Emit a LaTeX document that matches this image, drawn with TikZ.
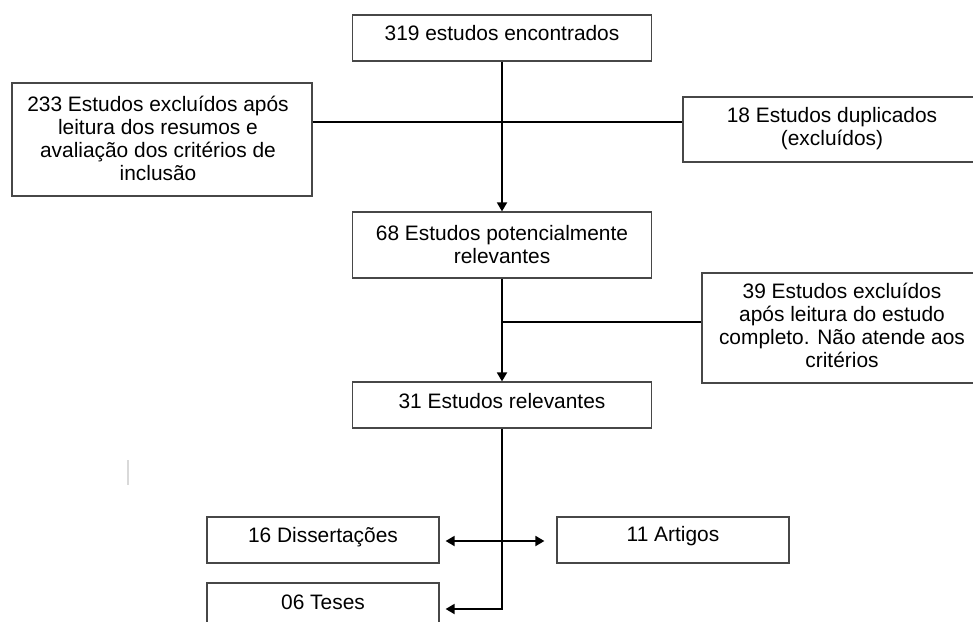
\documentclass[tikz,border=0pt]{standalone}
\usepackage{fontspec}
\setmainfont{Liberation Sans}
\usetikzlibrary{arrows.meta}
\begin{document}
\begin{tikzpicture}[x=1pt,y=-1pt,
  boxst/.style={draw=black!72,line width=1.2pt,inner sep=0pt},
  txt/.style={font=\fontsize{20.9}{23}\selectfont,align=center,inner sep=0pt,text=black},
  conn/.style={line width=1.8pt,draw=black},
  arr/.style={conn,-{Triangle[length=9pt,width=10pt]}},
]
\useasboundingbox (0,0) rectangle (973,621);
\fill[white] (0,0) rectangle (973,621);
\clip (0,0) rectangle (973,621);

% boxes
\node[boxst,minimum width=299pt,minimum height=46pt] (b319) at (502,38) {};
\node[boxst,minimum width=300pt,minimum height=113pt] (b233) at (162,139.5) {};
\node[boxst,minimum width=298pt,minimum height=65pt] (b18) at (832,129.5) {};
\node[boxst,minimum width=299pt,minimum height=66pt] (b68) at (502,245) {};
\node[boxst,minimum width=280pt,minimum height=110pt] (b39) at (842,328) {};
\node[boxst,minimum width=299pt,minimum height=46pt] (b31) at (502,405) {};
\node[boxst,minimum width=232pt,minimum height=46pt] (bdis) at (323,540) {};
\node[boxst,minimum width=232pt,minimum height=46pt] (bart) at (673,540) {};
\node[boxst,minimum width=232pt,minimum height=46pt] (btes) at (323,606) {};

% texts
\node[txt] (t319) at (502,33) {319 estudos encontrados};
\node[txt] (t233) at (158,138) {233 Estudos excluídos após\\leitura dos resumos e\\avaliação dos critérios de\\inclusão};
\node[txt] (t18) at (832,128.5) {18 Estudos duplicados\\(excluídos)};
\node[txt] (t68) at (502,245) {68 Estudos potencialmente\\relevantes};
\node[txt] (t39) at (842,325) {39 Estudos excluídos\\após leitura do estudo\\completo. Não atende aos\\critérios};
\node[txt] (t31) at (502,401) {31 Estudos relevantes};
\node[txt] (tdis) at (323,537) {16 Dissertações};
\node[txt] (tart) at (673,536) {11 Artigos};
\node[txt] (ttes) at (323,602) {06 Teses};

% helper coordinates
\coordinate (hl) at (0,122);
\coordinate (br) at (0,322);
\coordinate (tl) at (0,609);
\coordinate (md) at (0,541);

% connectors
\draw[arr] (b319) -- (b68);
\draw[conn] (b233.east |- hl) -- (b18.west |- hl);
\draw[arr] (b68) -- (b31);
\draw[conn] (b68.south |- br) -- (b39.west |- br);
\draw[arr,shorten >=6pt] (b31.south) -- (b31.south |- tl) -- (btes.east |- tl);
\draw[conn,{Triangle[length=9pt,width=10pt]}-{Triangle[length=9pt,width=10pt]},shorten <=6pt,shorten >=12pt] (bdis.east |- md) -- (bart.west |- md);

% stray mark
\draw[black!15,line width=1.5pt] (128,460) -- (128,485);
\end{tikzpicture}
\end{document}
